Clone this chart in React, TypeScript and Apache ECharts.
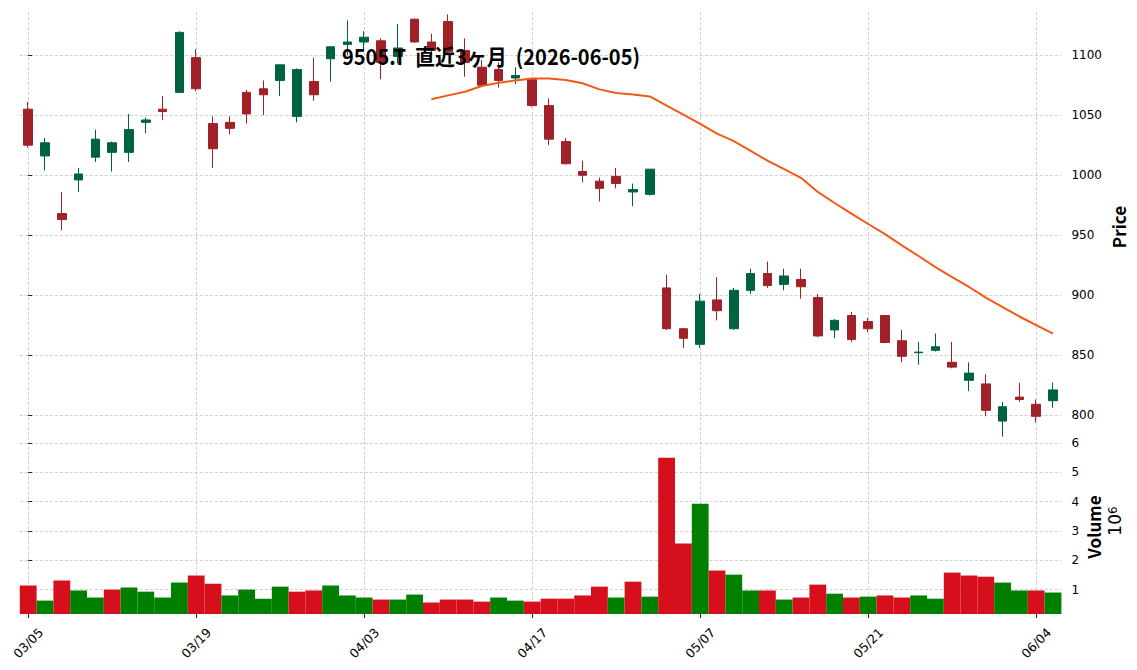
import React, { useEffect, useRef } from "react";
import * as echarts from "echarts";

// Trading days (2026)
const dates = [
  "03/05", "03/06", "03/09", "03/10", "03/11", "03/12", "03/13", "03/16", "03/17", "03/18",
  "03/19", "03/23", "03/24", "03/25", "03/26", "03/27", "03/30", "03/31", "04/01", "04/02",
  "04/03", "04/06", "04/07", "04/08", "04/09", "04/10", "04/13", "04/14", "04/15", "04/16",
  "04/17", "04/20", "04/21", "04/22", "04/23", "04/24", "04/27", "04/28", "04/30", "05/01",
  "05/07", "05/08", "05/11", "05/12", "05/13", "05/14", "05/15", "05/18", "05/19", "05/20",
  "05/21", "05/22", "05/25", "05/26", "05/27", "05/28", "05/29", "06/01", "06/02", "06/03",
  "06/04", "06/05",
];

const opens = [
  1055, 1016, 968, 996, 1015, 1019, 1019, 1044, 1055, 1069,
  1098, 1043, 1044, 1069, 1072, 1079, 1049, 1078, 1097, 1109,
  1111, 1112, 1099, 1130, 1111, 1128, 1104, 1090, 1088, 1081,
  1080, 1058, 1028, 1003, 995, 999, 986, 984, 906, 872,
  859, 896, 872, 904, 918, 909, 913, 898, 871, 883,
  878, 883, 862, 852, 854, 844, 829, 826, 795, 815,
  809, 812,
];
const highs = [
  1061, 1031, 986, 1006, 1038, 1028, 1051, 1048, 1066, 1120,
  1105, 1049, 1049, 1071, 1079, 1092, 1089, 1098, 1107, 1129,
  1120, 1114, 1126, 1130.5, 1118, 1134, 1114, 1096, 1094, 1090,
  1081, 1064, 1031, 1012, 998, 1006, 993, 1005, 917, 872.5,
  901, 915, 906, 922, 928, 922, 922, 901, 880, 886,
  881, 883.5, 871, 861, 868, 861, 844, 834, 811, 827,
  813, 827,
];
const lows = [
  1023, 1004, 954, 986, 1011, 1003, 1011, 1035, 1046, 1069,
  1070, 1006, 1034, 1043, 1050, 1066, 1044, 1062, 1078, 1100,
  1103, 1080, 1093, 1110.5, 1099, 1100, 1082, 1074, 1073, 1076,
  1057, 1025, 1009, 994, 978, 989, 974, 983, 871, 856,
  856, 879, 871, 901, 906, 904, 897, 865, 864, 861,
  869, 860, 844, 842, 853, 839, 820, 799, 782, 811,
  794, 806,
];
const closes = [
  1025, 1027, 963, 1001, 1030, 1027, 1038, 1046, 1053, 1119,
  1072, 1022, 1039, 1051, 1067, 1092, 1088, 1067, 1107, 1111,
  1115, 1094, 1106, 1111, 1104, 1103, 1094, 1075, 1079, 1083,
  1058, 1030, 1009.5, 1000, 989, 993, 988, 1005, 872, 864,
  895, 887, 904, 918, 908, 916, 907, 866, 879, 863,
  872, 860.5, 849, 852.5, 857, 840, 835, 804, 807, 813,
  799, 821,
];
// Volume, in millions of shares
const volumes = [
  1.14, 0.625, 1.31, 0.97, 0.73, 1.0, 1.07, 0.93, 0.73, 1.24,
  1.48, 1.2, 0.8, 1.0, 0.69, 1.1, 0.93, 0.97, 1.14, 0.8,
  0.73, 0.66, 0.66, 0.83, 0.56, 0.66, 0.66, 0.59, 0.73, 0.625,
  0.59, 0.69, 0.69, 0.8, 1.1, 0.73, 1.27, 0.76, 5.5, 2.57,
  3.93, 1.65, 1.51, 0.97, 0.97, 0.66, 0.73, 1.17, 0.86, 0.73,
  0.76, 0.8, 0.73, 0.8, 0.69, 1.58, 1.48, 1.44, 1.24, 0.97,
  0.97, 0.9,
];
// 25-day moving average (first 24 days empty)
const ma25 = [
  null, null, null, null, null, null, null, null, null, null,
  null, null, null, null, null, null, null, null, null, null,
  null, null, null, null, 1063.3, 1066.5, 1069.5, 1074.3, 1077.0, 1079.0,
  1080.6, 1080.6, 1079.3, 1076.6, 1071.5, 1068.5, 1067.2, 1065.6, 1058.0, 1050.5,
  1042.8, 1034.6, 1028.3, 1020.3, 1012.2, 1005.0, 997.8, 986.0, 976.8, 968.0,
  959.3, 950.8, 941.5, 932.6, 923.3, 915.0, 906.8, 898.0, 890.0, 882.2,
  875.0, 868.0,
];

const priceTicks = [800, 850, 900, 950, 1000, 1050, 1100];
const volumeTicks = [1, 2, 3, 4, 5, 6];
const dateTickIdx = [0, 10, 20, 30, 40, 50, 60];
const titleText = "9505.T  直近3ヶ月  (2026-06-05)";

const UP = "#006340";
const DOWN = "#a02128";
const VOL_UP = "#007f00";
const VOL_DOWN = "#d50f1b";
const GRIDC = "#c4c4c4";
const CJK = "'Noto Sans CJK JP', 'Noto Sans', sans-serif";
const NUMF = "'DejaVu Sans', sans-serif";

export default function App() {
  const ref = useRef<HTMLDivElement>(null);
  useEffect(() => {
    const chart = echarts.init(ref.current!, null, { renderer: "svg" });
    const left = 19.8;
    const right = 75.6;
    const vMin = 0.3 * Math.min(...volumes);
    const vMax = 1.1 * Math.max(...volumes);
    const gridLine = { show: true, lineStyle: { color: GRIDC, type: [3, 2], width: 0.8 } };
    const volData = volumes.map((v, i) => {
      const up = i === 0 ? closes[i] >= opens[i] : closes[i] >= closes[i - 1];
      return { value: v, itemStyle: { color: up ? VOL_UP : VOL_DOWN } };
    });
    const plain = (v: number) => String(v);
    const option: any = {
      animation: false,
      backgroundColor: "#ffffff",
      grid: [
        { left, right, top: 12, height: 429.5 },
        { left, right, top: 441.5, height: 172.5 },
      ],
      xAxis: [
        {
          type: "category", gridIndex: 0, data: dates, boundaryGap: true,
          axisLine: { show: false }, axisTick: { show: false }, axisLabel: { show: false },
          splitLine: { show: false },
        },
        {
          type: "category", gridIndex: 1, data: dates, boundaryGap: true,
          axisLine: { show: false },
          axisTick: { show: true, interval: 9, alignWithLabel: true, length: 4, lineStyle: { color: "#222", width: 1 } },
          axisLabel: {
            interval: 9, rotate: 45, align: "center", verticalAlign: "middle", margin: 29,
            fontSize: 12.5, fontFamily: NUMF, color: "#000",
          },
          splitLine: { show: false },
        },
        {
          type: "value", gridIndex: 0, min: -0.5, max: dates.length - 0.5,
          axisLine: { show: false },
          axisTick: { show: false, customValues: dateTickIdx },
          axisLabel: { show: false, customValues: dateTickIdx },
          splitLine: gridLine,
        },
        {
          type: "value", gridIndex: 1, min: -0.5, max: dates.length - 0.5,
          axisLine: { show: false },
          axisTick: { show: false, customValues: dateTickIdx },
          axisLabel: { show: false, customValues: dateTickIdx },
          splitLine: gridLine,
        },
      ],
      yAxis: [
        {
          type: "value", gridIndex: 0, position: "right", min: 778, max: 1136,
          axisLine: { show: false },
          axisTick: { show: true, length: 4, customValues: priceTicks, lineStyle: { color: "#222" } },
          axisLabel: { customValues: priceTicks, formatter: plain, margin: 10, fontSize: 12, fontFamily: NUMF, color: "#000" },
          splitLine: gridLine,
        },
        {
          type: "value", gridIndex: 1, position: "right", min: vMin, max: vMax,
          axisLine: { show: false },
          axisTick: { show: true, length: 4, customValues: volumeTicks, lineStyle: { color: "#222" } },
          axisLabel: { customValues: volumeTicks, formatter: plain, margin: 10, fontSize: 12, fontFamily: NUMF, color: "#000" },
          splitLine: gridLine,
        },
      ],
      series: [
        {
          type: "candlestick", xAxisIndex: 0, yAxisIndex: 0,
          data: dates.map((_, i) => [opens[i], closes[i], lows[i], highs[i]]),
          barWidth: 9,
          itemStyle: { color: UP, color0: DOWN, borderColor: UP, borderColor0: DOWN, borderWidth: 1 },
          z: 2,
        },
        {
          type: "line", xAxisIndex: 0, yAxisIndex: 0, data: ma25,
          symbol: "none", showSymbol: false, connectNulls: false,
          lineStyle: { color: "#f15a16", width: 2 }, z: 3,
        },
        {
          type: "bar", xAxisIndex: 1, yAxisIndex: 1, data: volData,
          barWidth: "100%", barGap: "0%", z: 2,
        },
      ],
      graphic: [
        {
          type: "text", x: 491, y: 56, z: 100, scaleY: 1.08,
          style: {
            text: titleText, fill: "#000", font: `bold 20px ${CJK}`,
            textAlign: "center", textVerticalAlign: "middle",
          },
        },
        {
          type: "text", x: 1118, y: 227, rotation: Math.PI / 2, z: 100,
          style: { text: "Price", fill: "#000", font: `bold 17px ${CJK}`, textAlign: "center", textVerticalAlign: "middle" },
        },
        {
          type: "text", x: 1093, y: 527, rotation: Math.PI / 2, z: 100,
          style: { text: "Volume", fill: "#000", font: `bold 17px ${CJK}`, textAlign: "center", textVerticalAlign: "middle" },
        },
        {
          type: "text", x: 1115, y: 521, rotation: Math.PI / 2, z: 100,
          style: {
            text: "{a|10}{b|6}", fill: "#000", textAlign: "center", textVerticalAlign: "middle",
            rich: {
              a: { fontSize: 17, fontFamily: NUMF, fill: "#000" },
              b: { fontSize: 12, fontFamily: NUMF, fill: "#000", verticalAlign: "top" },
            },
          },
        },
      ],
    };
    chart.setOption(option);
    return () => chart.dispose();
  }, []);
  return (
    <div
      ref={ref}
      style={{ position: "fixed", left: 0, top: 0, width: 1137, height: 670, background: "#fff" }}
    />
  );
}
